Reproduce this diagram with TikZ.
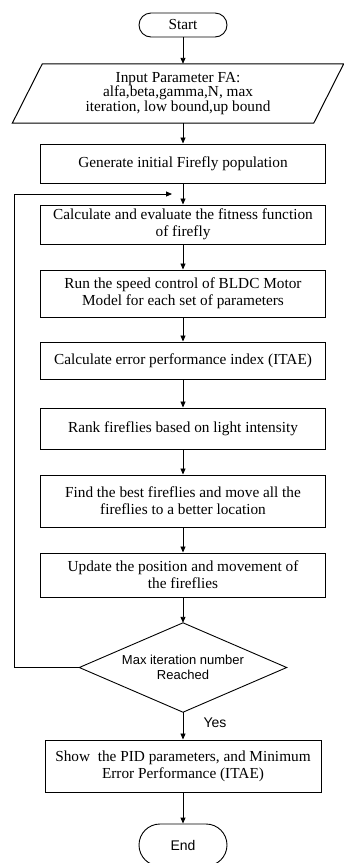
\documentclass[tikz,border=0pt]{standalone}
\usepackage{fontspec}
\setmainfont{Liberation Serif}
\newfontfamily\arialf{Liberation Sans}
\usetikzlibrary{arrows.meta,shapes.geometric,shapes.misc}
\begin{document}
\begin{tikzpicture}[x=1pt,y=-1pt,
  serif/.style={font=\fontsize{15.3}{17}\selectfont},
  box/.style={draw, line width=1pt, minimum width=285pt, inner sep=0pt, align=center, serif},
  term/.style={draw, rounded rectangle, line width=0.9pt, minimum width=88pt, inner sep=0pt},
  arr/.style={-{Triangle[length=6pt,width=5pt]}, line width=0.9pt}]
\useasboundingbox (0,0) rectangle (344,863);
\node[term, minimum height=24pt, serif] (start) at (183,25) {Start};
\node[minimum width=301pt, minimum height=59pt, inner sep=0pt, align=center,
      font=\fontsize{15.3}{14.5}\selectfont] (inp) at (178,93.5)
      {Input Parameter FA:\\alfa,beta,gamma,N, max\\iteration, low bound,up bound};
\draw[line width=1pt] ([xshift=-15pt]inp.south west) -- ([xshift=15pt]inp.north west)
  -- ([xshift=15pt]inp.north east) -- ([xshift=-15pt]inp.south east) -- cycle;
\node[box, minimum height=39pt] (gen) at (183,163.5) {Generate initial Firefly population};
\node[box, minimum height=39pt] (calc) at (183,224.5) {Calculate and evaluate the fitness function\\of firefly};
\node[box, minimum height=47pt] (run) at (183,293.5) {Run the speed control of BLDC Motor\\Model for each set of parameters};
\node[box, minimum height=37pt] (err) at (183,360.5) {Calculate error performance index (ITAE)};
\node[box, minimum height=41pt] (rank) at (183,428.5) {Rank fireflies based on light intensity};
\node[box, minimum height=52pt] (find) at (183,501) {Find the best fireflies and move all the\\fireflies to a better location};
\node[box, minimum height=44pt] (upd) at (183,575) {Update the position and movement of\\the fireflies};
\node[minimum width=207pt, minimum height=89pt, inner sep=0pt,
      align=center, font=\arialf\fontsize{13}{15}\selectfont] (dec) at (183,667.5) {Max iteration number\\Reached};
\draw[line width=0.9pt] (dec.north) -- (dec.east) -- (dec.south) -- (dec.west) -- cycle;
\node[box, minimum width=276pt, minimum height=52pt] (show) at (183,766) {Show~ the PID parameters, and Minimum\\Error Performance (ITAE)};
\node[term, minimum height=42pt, font=\arialf\fontsize{14}{16}\selectfont] (end) at (183,845) {End};
\node[font=\arialf\fontsize{14}{16}\selectfont] (yes) at (215,723) {Yes};
\coordinate (fbc) at (14,194);
\coordinate (fbe) at (172,194);
\draw[arr] (start.south) -- (start.south |- inp.north);
\draw[arr] (gen.north |- inp.south) -- (gen.north);
\draw[arr] (gen.south) -- (calc.north);
\draw[arr] (calc.south) -- (run.north);
\draw[arr] (run.south) -- (err.north);
\draw[arr] (err.south) -- (rank.north);
\draw[arr] (rank.south) -- (find.north);
\draw[arr] (find.south) -- (upd.north);
\draw[arr] (upd.south) -- (dec.north);
\draw[arr] (dec.south) -- (show.north);
\draw[arr] (show.south) -- (end.north);
\draw[arr] (dec.west) -| (fbc) -- (fbe);
\end{tikzpicture}
\end{document}
